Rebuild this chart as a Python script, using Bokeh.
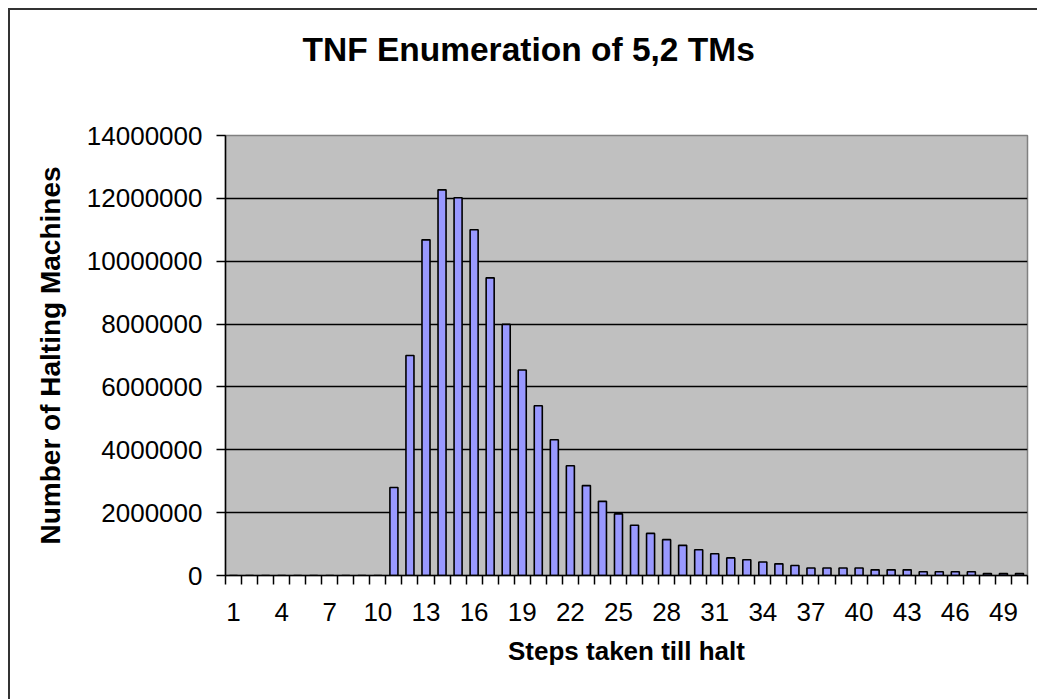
from bokeh.plotting import figure
from bokeh.models import (FixedTicker, BasicTickFormatter, Title,
                          ColumnDataSource, Range1d)
from bokeh.embed import file_html
from bokeh.resources import INLINE

# ---- data ----
steps = list(range(1, 51))
halting = [
    0, 0, 0, 0, 0, 0, 0, 0, 0, 0,
    2800000, 7000000, 10680000, 12270000, 12020000, 11000000, 9470000, 7990000, 6540000, 5400000,
    4320000, 3490000, 2860000, 2360000, 1960000, 1600000, 1340000, 1140000, 960000, 820000,
    690000, 560000, 500000, 430000, 370000, 320000, 240000, 240000, 240000, 240000,
    180000, 180000, 180000, 120000, 120000, 120000, 120000, 60000, 60000, 60000,
]
x_tick_labels = list(range(1, 51, 3))
y_ticks = list(range(0, 14000001, 2000000))

title_text = "TNF Enumeration of 5,2 TMs"
x_title = "Steps taken till halt"
y_title = "Number of Halting Machines"

FONT = "Liberation Sans"

p = figure(width=1037, height=699, output_backend="svg", toolbar_location=None,
           x_range=Range1d(0.5, 50.5), y_range=Range1d(0, 14000000),
           min_border_left=225, min_border_right=10, min_border_top=135,
           min_border_bottom=124, title=None)
# outer chart frame (left and top edges only; the reference is cropped right/bottom)
p.styles = {"background-color": "white",
            "box-shadow": "inset 8px 8px 0px 0px white, inset 10px 10px 0px 0px #333333"}

src = ColumnDataSource(dict(x=steps, top=halting))
p.vbar(x="x", top="top", width=0.5, bottom=0, source=src,
       fill_color="#9999FF", line_color="black", line_width=1.6)

p.background_fill_color = "#C0C0C0"
p.border_fill_color = None
p.outline_line_color = "#808080"
p.outline_line_width = 1.5

# spacer between title and frame, then the title itself
p.add_layout(Title(text=" ", text_font=FONT, text_font_size="45px"), "above")
p.add_layout(Title(text=title_text, align="left", offset=77, text_font=FONT,
                   text_font_style="bold", text_font_size="33.5px", text_color="black"),
             "above")

# grid
p.xgrid.grid_line_color = None
p.ygrid.ticker = FixedTicker(ticks=y_ticks)
p.ygrid.grid_line_color = "black"
p.ygrid.grid_line_width = 1.5

# x axis
xa = p.xaxis[0]
xa.ticker = FixedTicker(ticks=x_tick_labels, minor_ticks=[s - 0.5 for s in steps] + [50.5])
xa.major_tick_line_color = None
xa.major_tick_out = 9
xa.major_tick_in = 0
xa.minor_tick_out = 9
xa.minor_tick_in = 0
xa.minor_tick_line_color = "black"
xa.minor_tick_line_width = 1.5
xa.axis_line_color = "black"
xa.axis_line_width = 1.5
xa.major_label_text_font = FONT
xa.major_label_text_font_size = "26px"
xa.major_label_text_color = "black"
xa.major_label_standoff = 18
xa.axis_label = x_title
xa.axis_label_text_font = FONT
xa.axis_label_text_font_style = "bold"
xa.axis_label_text_font_size = "26px"
xa.axis_label_text_color = "black"
xa.axis_label_standoff = 12

# y axis
ya = p.yaxis[0]
ya.ticker = FixedTicker(ticks=y_ticks)
ya.formatter = BasicTickFormatter(use_scientific=False)
ya.minor_tick_line_color = None
ya.major_tick_out = 9
ya.major_tick_in = 0
ya.major_tick_line_color = "black"
ya.major_tick_line_width = 1.5
ya.axis_line_color = "black"
ya.axis_line_width = 1.5
ya.major_label_text_font = FONT
ya.major_label_text_font_size = "26px"
ya.major_label_text_color = "black"
ya.major_label_standoff = 14
ya.axis_label = y_title
ya.axis_label_text_font = FONT
ya.axis_label_text_font_style = "bold"
ya.axis_label_text_font_size = "28px"
ya.axis_label_text_color = "black"
ya.axis_label_standoff = 18

open("out.html", "w").write(file_html(p, INLINE))
